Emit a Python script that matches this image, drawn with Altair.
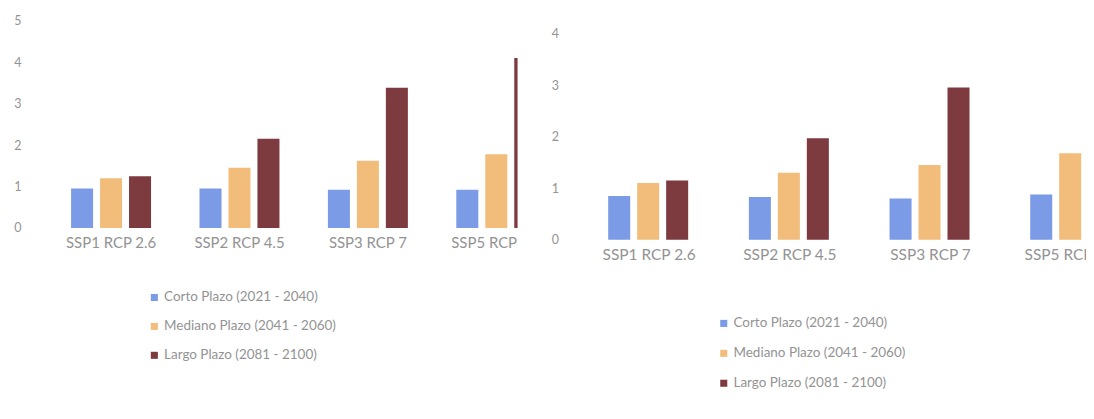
import altair as alt
import pandas as pd

categories = ["SSP1 RCP 2.6", "SSP2 RCP 4.5", "SSP3 RCP 7", "SSP5 RCP 8.5"]
series = ["Corto Plazo (2021 - 2040)", "Mediano Plazo (2041 - 2060)", "Largo Plazo (2081 - 2100)"]

# Left chart values
corto_izq = [0.95, 0.95, 0.92, 0.92]
mediano_izq = [1.2, 1.45, 1.62, 1.78]
largo_izq = [1.25, 2.15, 3.38, 4.1]

# Right chart values
corto_der = [0.85, 0.83, 0.8, 0.88]
mediano_der = [1.1, 1.3, 1.45, 1.68]
largo_der = [1.15, 1.97, 2.95, 3.6]

y_ticks_izq = [0, 1, 2, 3, 4, 5]
y_ticks_der = [0, 1, 2, 3, 4]

colors = ["#7b9be6", "#f2bd7a", "#7d3a3f"]
FONT = "Lato"
GRAY = "#939393"


def make_df(c, m, l):
    rows = []
    for i, cat in enumerate(categories):
        for s, vals in zip(series, [c, m, l]):
            rows.append({"escenario": cat, "periodo": s, "valor": vals[i]})
    return pd.DataFrame(rows)


def panel(df, width, height, ydomain, yvalues, xrange_, xpi, xpo, opi, opo,
          legx, legy, rowpad, catsize):
    xscale = alt.Scale(range=xrange_, paddingInner=xpi, paddingOuter=xpo)
    yscale = alt.Scale(domain=ydomain, nice=False, zero=False)
    yaxis = alt.Axis(values=yvalues, title=None, domain=False, ticks=False,
                     grid=False, labelPadding=10, labelColor=GRAY,
                     labelFont=FONT, labelFontSize=12.5)
    bars = alt.Chart(df).mark_bar(clip=True).encode(
        x=alt.X("escenario:N", sort=categories, scale=xscale, axis=None),
        xOffset=alt.XOffset("periodo:N", sort=series,
                            scale=alt.Scale(paddingInner=opi, paddingOuter=opo)),
        y=alt.Y("valor:Q", scale=yscale, axis=yaxis),
        color=alt.Color("periodo:N", sort=series,
                        scale=alt.Scale(domain=series, range=colors),
                        legend=alt.Legend(title=None, orient="none", legendX=legx,
                                          legendY=legy, direction="vertical",
                                          symbolType="square", symbolSize=50,
                                          symbolStrokeWidth=0, padding=0,
                                          labelOffset=3,
                                          labelFont=FONT, labelFontSize=13.5,
                                          labelColor=GRAY, labelLimit=300,
                                          rowPadding=rowpad)),
    )
    lab_df = pd.DataFrame({"escenario": categories, "cero": [0] * len(categories)})
    labels = alt.Chart(lab_df).mark_text(
        clip=True, dy=15, font=FONT, fontSize=catsize, color=GRAY
    ).encode(
        x=alt.X("escenario:N", sort=categories, scale=xscale, axis=None),
        y=alt.Y("cero:Q", scale=yscale, axis=yaxis),
        text="escenario:N",
    )
    return alt.layer(bars, labels).properties(width=width, height=height)


left = panel(make_df(corto_izq, mediano_izq, largo_izq), 488, 245,
             [-0.72, 5.17], y_ticks_izq, [0, 547], 0.332, 0.29, 0.24, 0.1,
             117, 278, 14, 15)
right = panel(make_df(corto_der, mediano_der, largo_der), 519, 258,
              [-0.6, 4.386], y_ticks_der, [0, 585], 0.377, 0.262, 0.22, 0.1,
              149, 304, 15, 15.5)

chart = alt.hconcat(left, right, spacing=33).resolve_scale(
    color="independent", x="independent", y="independent"
).resolve_legend(color="independent").properties(
    padding={"left": 5, "top": 5, "right": 0, "bottom": 5},
    background="white",
).configure_view(stroke=None)

chart.save("out.html", embed_options={"renderer": "svg", "actions": False})
